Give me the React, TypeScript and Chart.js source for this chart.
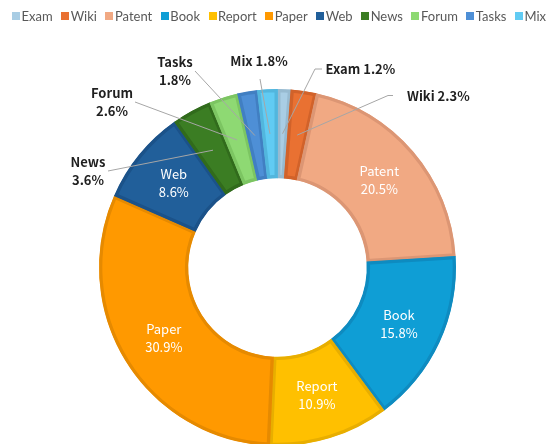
import React, { useEffect, useRef } from 'react';
import { Chart, registerables } from 'chart.js';

Chart.register(...registerables);

// ---- data ----
const categories = ['Exam', 'Wiki', 'Patent', 'Book', 'Report', 'Paper', 'Web', 'News', 'Forum', 'Tasks', 'Mix'];
const shares = [1.2, 2.3, 20.5, 15.8, 10.9, 30.9, 8.6, 3.6, 2.6, 1.8, 1.8];
const fillColors = ['#A9CDE4', '#E97132', '#F1A983', '#0F9ED5', '#FFC000', '#FF9900', '#215F9A', '#3B7D23', '#8ED973', '#4E8FD6', '#61CBF3'];
const edgeColors = ['#97BAD0', '#D1622A', '#DC9674', '#0E8BC0', '#E8AE00', '#E68A00', '#1B5289', '#316B1C', '#7CC562', '#417FC2', '#52B6DD'];
const insideLabelCategories = ['Patent', 'Book', 'Report', 'Paper', 'Web'];

// ---- layout / styling (not data) ----
const W = 547;
const H = 460;
const CX = 277.5;
const CY = 267.5;
const R = 178.5;
const FONT = '"Noto Sans CJK SC", "Noto Sans", sans-serif';
const LEGEND_FONT = 'Lato, "Noto Sans", sans-serif';
const LEGEND_Y = 16;
const LEGEND_LEFT = 12;
const LEGEND_RIGHT = 546;
const LEGEND_BOX = 8;
const LEGEND_BOX_GAP = 1.5;

type Callout = { twoLine: boolean; tx: number; ty: number; align: CanvasTextAlign; path: [number, number][] };
// label anchors relative to chart centre (px)
const callouts: Record<string, Callout> = {
  News: { twoLine: true, tx: -189.5, ty: -96.5, align: 'center', path: [[-169.5, -96.5]] },
  Forum: { twoLine: true, tx: -165.5, ty: -165, align: 'center', path: [[-142.5, -165.5]] },
  Tasks: { twoLine: true, tx: -102.5, ty: -196, align: 'center', path: [[-82.5, -196.5]] },
  Mix: { twoLine: false, tx: -18.5, ty: -206.5, align: 'center', path: [[-17.5, -188.5]] },
  Exam: { twoLine: false, tx: 48, ty: -198, align: 'left', path: [[37.5, -198.5], [44.5, -198.5]] },
  Wiki: { twoLine: false, tx: 129.5, ty: -171, align: 'left', path: [[110.5, -172], [115.5, -172]] },
};

const areaPlugin = {
  id: 'fixedArea',
  afterLayout(chart: any) {
    const a = chart.chartArea;
    a.left = CX - R;
    a.right = CX + R;
    a.top = CY - R;
    a.bottom = CY + R;
    a.width = 2 * R;
    a.height = 2 * R;
  },
};

const legendPlugin = {
  id: 'compactLegend',
  afterDraw(chart: any) {
    const ctx: CanvasRenderingContext2D = chart.ctx;
    const labels: string[] = chart.data.labels;
    const colors: string[] = chart.data.datasets[0].backgroundColor;
    ctx.save();
    ctx.font = `13px ${LEGEND_FONT}`;
    ctx.textBaseline = 'middle';
    ctx.textAlign = 'left';
    const widths = labels.map((l) => LEGEND_BOX + LEGEND_BOX_GAP + ctx.measureText(l).width);
    const used = widths.reduce((s, w) => s + w, 0);
    const gap = (LEGEND_RIGHT - LEGEND_LEFT - used) / (labels.length - 1);
    let x = LEGEND_LEFT;
    labels.forEach((l, i) => {
      ctx.fillStyle = colors[i];
      ctx.fillRect(Math.round(x), LEGEND_Y - LEGEND_BOX / 2, LEGEND_BOX, LEGEND_BOX);
      ctx.fillStyle = '#595959';
      ctx.fillText(l, x + LEGEND_BOX + LEGEND_BOX_GAP, LEGEND_Y + 0.5);
      x += widths[i] + gap;
    });
    ctx.restore();
  },
};

const labelPlugin = {
  id: 'sliceLabels',
  afterDatasetsDraw(chart: any) {
    const ctx: CanvasRenderingContext2D = chart.ctx;
    const meta = chart.getDatasetMeta(0);
    meta.data.forEach((arc: any, i: number) => {
      const name = categories[i];
      const pct = shares[i].toFixed(1) + '%';
      const p = arc.getProps(['x', 'y', 'startAngle', 'endAngle', 'innerRadius', 'outerRadius'], true);
      const mid = (p.startAngle + p.endAngle) / 2;
      const rr = (p.innerRadius + p.outerRadius) / 2;
      const px = p.x + Math.cos(mid) * rr;
      const py = p.y + Math.sin(mid) * rr;
      ctx.save();
      ctx.textBaseline = 'middle';
      if (insideLabelCategories.includes(name)) {
        ctx.fillStyle = '#FFFFFF';
        ctx.font = `13px ${FONT}`;
        ctx.textAlign = 'center';
        ctx.fillText(name, px, py - 9);
        ctx.fillText(pct, px, py + 9);
      } else {
        const c = callouts[name];
        if (c) {
          ctx.strokeStyle = '#A6A6A6';
          ctx.lineWidth = 1;
          ctx.beginPath();
          ctx.moveTo(px, py);
          c.path.forEach(([dx, dy]) => ctx.lineTo(p.x + dx, p.y + dy));
          ctx.stroke();
          ctx.fillStyle = '#1F1F1F';
          ctx.font = `bold 13px ${FONT}`;
          ctx.textAlign = c.align;
          const x = p.x + c.tx;
          const y = p.y + c.ty;
          if (c.twoLine) {
            ctx.fillText(name, x, y - 9);
            ctx.fillText(pct, x, y + 9);
          } else {
            ctx.fillText(name + ' ' + pct, x, y);
          }
        }
      }
      ctx.restore();
    });
  },
};

export default function App() {
  const ref = useRef<HTMLCanvasElement | null>(null);
  useEffect(() => {
    if (!ref.current) return;
    const chart = new Chart(ref.current, {
      type: 'doughnut',
      data: {
        labels: categories,
        datasets: [
          {
            data: shares,
            backgroundColor: fillColors,
            borderColor: edgeColors,
            borderWidth: 3,
            borderAlign: 'inner',
          },
        ],
      },
      options: {
        responsive: false,
        animation: false,
        cutout: '50%',
        plugins: {
          legend: { display: false },
          tooltip: { enabled: false },
        },
      },
      plugins: [areaPlugin, labelPlugin, legendPlugin],
    });
    return () => chart.destroy();
  }, []);
  return (
    <canvas
      ref={ref}
      width={W}
      height={H}
      style={{ position: 'fixed', left: 0, top: 0, width: W, height: H }}
    />
  );
}
